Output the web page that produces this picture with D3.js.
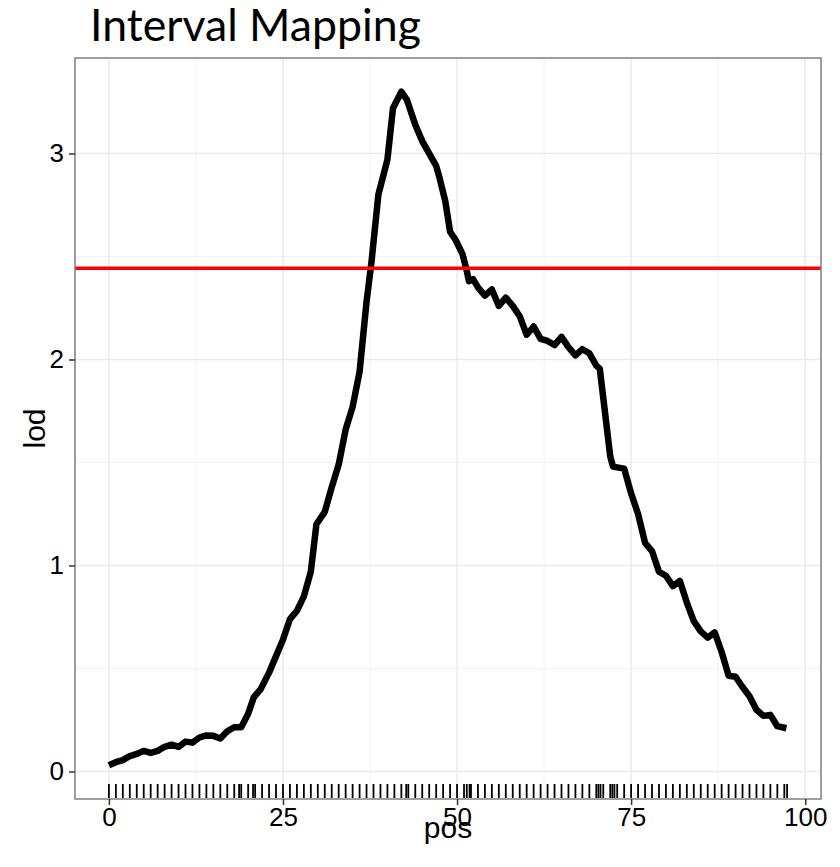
<!DOCTYPE html>
<html>
<head>
<meta charset="utf-8">
<script src="https://cdn.jsdelivr.net/npm/d3@7"></script>
<style>
  body { margin: 0; background: #fff; }
</style>
</head>
<body>
<div id="chart"></div>
<script>
// lod curve
const pos = [0, 1, 2, 3, 4, 5, 6, 7, 8, 9, 10, 11, 12, 13, 14, 15, 16, 17, 18, 19, 20, 20.8, 21.8, 23, 24, 25,
  26, 27, 28, 29, 29.8, 31, 32, 33, 34, 35, 36, 37, 37.7, 38.7, 40, 40.8, 42, 42.8, 44, 45, 47, 47.5, 48.3,
  49, 49.8, 50.8, 51.4, 51.7, 52.3, 53, 54, 55, 56, 57, 58, 59, 60, 61, 62, 63, 64, 65, 66, 67, 68, 69, 70,
  70.5, 72, 72.4, 74, 75, 76, 77, 78, 79, 80, 81, 82, 83, 84, 85, 86, 87, 88, 89, 90, 91, 92, 93, 94, 95, 96, 97.3];
const lod = [0.03, 0.045, 0.055, 0.075, 0.085, 0.10, 0.09, 0.10, 0.12, 0.13, 0.12, 0.145, 0.14, 0.165, 0.175, 0.173, 0.16, 0.195, 0.215, 0.215, 0.28, 0.36, 0.40, 0.48, 0.56, 0.64,
  0.74, 0.78, 0.85, 0.97, 1.20, 1.26, 1.38, 1.49, 1.66, 1.77, 1.94, 2.28, 2.47, 2.80, 2.97, 3.22, 3.30, 3.26, 3.14, 3.06, 2.94, 2.88, 2.77,
  2.62, 2.58, 2.51, 2.43, 2.38, 2.39, 2.35, 2.31, 2.34, 2.26, 2.30, 2.26, 2.21, 2.12, 2.16, 2.10, 2.09, 2.07, 2.11, 2.06, 2.02, 2.05, 2.03, 1.97,
  1.955, 1.53, 1.48, 1.47, 1.35, 1.25, 1.11, 1.07, 0.97, 0.95, 0.90, 0.925, 0.82, 0.73, 0.68, 0.65, 0.675, 0.58, 0.465, 0.46, 0.41, 0.365, 0.30, 0.27, 0.275, 0.22, 0.21];

// marker positions for the rug
const markers = [0, 1, 2, 3, 4, 5, 6, 7, 8, 9, 10, 11, 12, 13, 14, 15, 16, 17, 18, 18.7, 19, 20, 20.7, 21, 22, 23, 24,
  25, 26, 27, 28, 29, 30, 31, 32, 33, 34, 35, 36, 37, 38, 39, 40, 41, 42, 42.7, 43, 44, 45, 46, 47, 48, 49,
  50, 51, 51.4, 51.8, 52, 53, 54, 55, 56, 57, 58, 59, 60, 61, 62, 63, 64, 65, 66, 67, 68, 69, 70, 70.3, 70.6,
  71, 72, 72.3, 72.6, 73, 74, 75, 76, 77, 78, 79, 80, 81, 82, 83, 84, 85, 86, 87, 88, 89, 90, 91, 92, 93, 94,
  95, 96, 97, 97.4];

const threshold = 2.443;
const xTicks = [0, 25, 50, 75, 100];
const yTicks = [0, 1, 2, 3];

const width = 840, height = 867;
const panel = { left: 75, top: 58, right: 821, bottom: 799 };

const svg = d3.select('#chart').append('svg')
  .attr('width', width)
  .attr('height', height)
  .style('font-family', '"Liberation Sans", Arial, sans-serif');

svg.append('rect').attr('width', width).attr('height', height).attr('fill', '#fff');

// ggplot style 5% expansion
const xExt = d3.extent(markers.concat(pos));
const xPad = (xExt[1] - xExt[0]) * 0.05;
const x = d3.scaleLinear().domain([xExt[0] - xPad, xExt[1] + xPad]).range([panel.left, panel.right]);
const yExt = d3.extent(lod);
const yPad = (yExt[1] - yExt[0]) * 0.05;
const y = d3.scaleLinear().domain([yExt[0] - yPad, yExt[1] + yPad]).range([panel.bottom, panel.top]);

// grid
const g = svg.append('g');
const xMinor = xTicks.slice(0, -1).map(d => d + 12.5);
const yMinor = yTicks.map(d => d + 0.5).filter(d => d < y.domain()[1]);
g.selectAll('.xminor').data(xMinor).enter().append('line')
  .attr('x1', d => x(d)).attr('x2', d => x(d)).attr('y1', panel.top).attr('y2', panel.bottom)
  .attr('stroke', '#f2f2f2').attr('stroke-width', 1);
g.selectAll('.yminor').data(yMinor).enter().append('line')
  .attr('x1', panel.left).attr('x2', panel.right).attr('y1', d => y(d)).attr('y2', d => y(d))
  .attr('stroke', '#f2f2f2').attr('stroke-width', 1);
g.selectAll('.xmajor').data(xTicks).enter().append('line')
  .attr('x1', d => x(d)).attr('x2', d => x(d)).attr('y1', panel.top).attr('y2', panel.bottom)
  .attr('stroke', '#ebebeb').attr('stroke-width', 1.5);
g.selectAll('.ymajor').data(yTicks).enter().append('line')
  .attr('x1', panel.left).attr('x2', panel.right).attr('y1', d => y(d)).attr('y2', d => y(d))
  .attr('stroke', '#ebebeb').attr('stroke-width', 1.5);

// rug
g.selectAll('.rug').data(markers).enter().append('line')
  .attr('x1', d => x(d)).attr('x2', d => x(d))
  .attr('y1', panel.bottom - 15).attr('y2', panel.bottom - 1)
  .attr('stroke', '#000').attr('stroke-width', 1.8);

// lod curve
const line = d3.line().x((d, i) => x(pos[i])).y(d => y(d));
g.append('path').datum(lod)
  .attr('fill', 'none')
  .attr('stroke', '#000')
  .attr('stroke-width', 6.5)
  .attr('stroke-linejoin', 'round')
  .attr('d', line);

// threshold
g.append('line')
  .attr('x1', panel.left).attr('x2', panel.right)
  .attr('y1', y(threshold)).attr('y2', y(threshold))
  .attr('stroke', '#ff0000').attr('stroke-width', 3.5);

// panel border
svg.append('rect')
  .attr('x', panel.left).attr('y', panel.top)
  .attr('width', panel.right - panel.left).attr('height', panel.bottom - panel.top)
  .attr('fill', 'none').attr('stroke', '#7f7f7f').attr('stroke-width', 1.5);

// axes
const xAxis = svg.append('g')
  .attr('transform', 'translate(0,' + panel.bottom + ')')
  .call(d3.axisBottom(x).tickValues(xTicks).tickFormat(d3.format('d')).tickSize(6).tickPadding(3));
const yAxis = svg.append('g')
  .attr('transform', 'translate(' + panel.left + ',0)')
  .call(d3.axisLeft(y).tickValues(yTicks).tickFormat(d3.format('d')).tickSize(6).tickPadding(5));
[xAxis, yAxis].forEach(a => {
  a.select('.domain').remove();
  a.selectAll('.tick line').attr('stroke', '#333').attr('stroke-width', 1.5);
  a.selectAll('.tick text').attr('fill', '#000').style('font-size', '26px')
    .style('font-family', '"Liberation Sans", Arial, sans-serif');
});

// axis titles
svg.append('text')
  .attr('x', (panel.left + panel.right) / 2)
  .attr('y', 838)
  .attr('text-anchor', 'middle')
  .style('font-size', '30px')
  .text('pos');
svg.append('text')
  .attr('transform', 'translate(45,' + (panel.top + panel.bottom) / 2 + ') rotate(-90)')
  .attr('text-anchor', 'middle')
  .style('font-size', '30px')
  .text('lod');

// title, fitted to the width it has in the picture
const title = svg.append('text')
  .attr('x', 90)
  .attr('y', 41)
  .style('font-family', 'Lato, "Open Sans", sans-serif')
  .style('font-size', '40px')
  .attr('fill', '#000')
  .text('Interval Mapping');
const tw = title.node().getComputedTextLength();
title.style('font-size', (40 * 331 / tw) + 'px');
</script>
</body>
</html>
